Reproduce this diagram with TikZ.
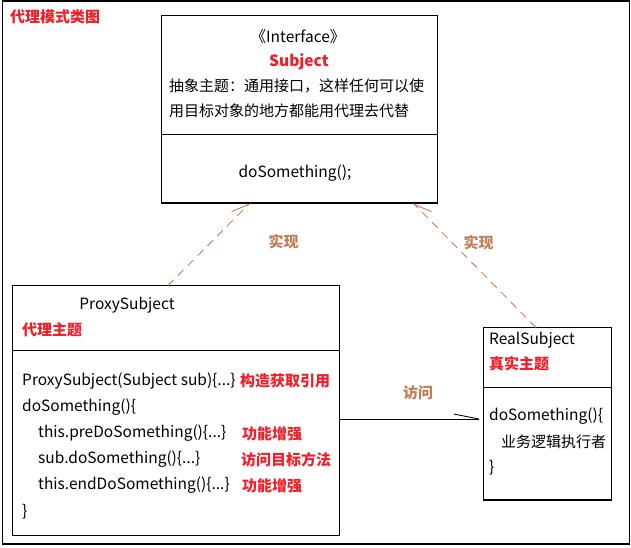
\documentclass[tikz,border=0pt]{standalone}
\usepackage{fontspec}
\setmainfont{Noto Sans CJK SC}
\usetikzlibrary{arrows.meta}
\definecolor{myred}{RGB}{240,30,40}
\definecolor{tan}{RGB}{192,125,85}
\definecolor{tanline}{RGB}{195,115,75}
\tikzset{
  box/.style={draw=black, line width=1.2pt, rectangle, inner sep=0pt},
  txt/.style={anchor=west, inner sep=0pt, font=\fontsize{15}{18}\selectfont},
  ctxt/.style={inner sep=0pt, font=\fontsize{15}{18}\selectfont},
  lat/.style={font=\fontsize{15.5}{18}\selectfont},
  redb/.style={text=myred, font=\fontsize{15}{18}\selectfont\bfseries},
  redlat/.style={text=myred, font=\fontsize{15.5}{18}\selectfont\bfseries},
  lbl/.style={inner sep=0pt, text=tan, font=\fontsize{15}{18}\selectfont\bfseries},
  divider/.style={draw=black, line width=1.2pt},
  realize/.style={draw=tanline, line width=0.8pt, dash pattern=on 8pt off 6pt},
}
\begin{document}
\begin{tikzpicture}[x=1pt,y=-1pt]
\useasboundingbox (0,0) rectangle (631,547);
% outer frame
\node[box, minimum width=627pt, minimum height=543pt] (frame) at (316,272.5) {};
\node[txt, redb] (title) at (10,17) {代理模式类图};

% Subject box
\node[box, minimum width=276pt, minimum height=187.5pt] (subj) at (299.5,109.25) {};
\draw[divider] (subj.west |- 0,134.5) -- (subj.east |- 0,134.5);
\node[ctxt, lat] (iface) at (298,37) {《Interface》};
\node[ctxt, redlat] (subjname) at (299,62) {Subject};
\node[txt] (sd1) at (169,86) {抽象主题：通用接口，这样任何可以使};
\node[txt] (sd2) at (169,111) {用目标对象的地方都能用代理去代替};
\node[ctxt, lat] (sm) at (295,173) {doSomething();};

% Proxy box
\node[box, minimum width=327pt, minimum height=250pt] (proxy) at (176,410.5) {};
\draw[divider] (proxy.west |- 0,350.5) -- (proxy.east |- 0,350.5);
\node[ctxt, lat] (pname) at (127,305) {ProxySubject};
\node[txt, redb] (pcn) at (22,330) {代理主题};
\node[txt, lat] (p1) at (22,381) {ProxySubject(Subject sub)\{...\}};
\node[txt, lat] (p2) at (22,407.5) {doSomething()\{};
\node[txt, lat] (p3) at (38,433.5) {this.preDoSomething()\{...\}};
\node[txt, lat] (p4) at (38,459.5) {sub.doSomething()\{...\}};
\node[txt, lat] (p5) at (38,485.5) {this.endDoSomething()\{...\}};
\node[txt, lat] (p6) at (22,511.5) {\}};
\node[txt, redb] (r1) at (240,381) {构造获取引用};
\node[txt, redb] (r2) at (242,433.5) {功能增强};
\node[txt, redb] (r3) at (241,459.5) {访问目标方法};
\node[txt, redb] (r4) at (242,485.5) {功能增强};

% Real box
\node[box, minimum width=128pt, minimum height=172.5pt] (real) at (547.5,413.75) {};
\draw[divider] (real.west |- 0,387.5) -- (real.east |- 0,387.5);
\node[txt, lat] (rname) at (489,340) {RealSubject};
\node[txt, redb] (rcn) at (489,364) {真实主题};
\node[txt, lat] (rm1) at (489,416) {doSomething()\{};
\node[txt] (rm2) at (501,442) {业务逻辑执行者};
\node[txt, lat] (rm3) at (489,468) {\}};

% connectors
\coordinate (pa) at (339.5,419);
\coordinate (ra) at (483.5,419);
\draw[line width=0.9pt, -{Straight Barb[left, length=25pt, width=10pt]}] (pa) -- (ra);
\node[lbl] (visit) at (418,393) {访问};

\coordinate (ptop) at (168,285.5);
\coordinate (sbl) at (250,203);
\draw[realize, -{Straight Barb[left, length=17pt, width=14pt]}] (ptop) -- (sbl);
\node[lbl] (impl1) at (283.5,241.5) {实现};

\coordinate (rtop) at (536,327.5);
\coordinate (sbr) at (413,203);
\draw[realize, -{Straight Barb[right, length=17pt, width=14pt]}] (rtop) -- (sbr);
\node[lbl] (impl2) at (478.5,242.5) {实现};
\end{tikzpicture}
\end{document}
